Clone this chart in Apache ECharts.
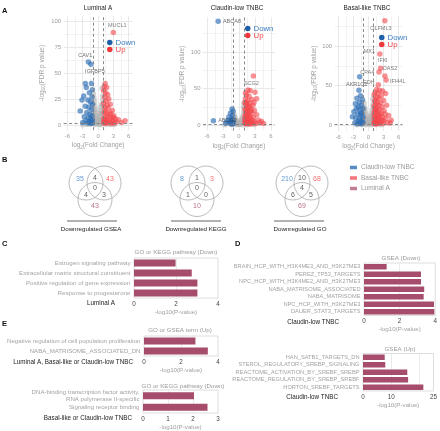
<!DOCTYPE html>
<html><head><meta charset="utf-8">
<script src="https://cdn.jsdelivr.net/npm/echarts@6/dist/echarts.min.js"></script>
<style>html,body{margin:0;padding:0;background:#fff}#c{width:440px;height:431px}</style>
</head><body><div id="c"></div>
<script>
// ---------------- DATA ----------------
// Panel A volcano points: [log2FC, -log10 FDR]
const lumUp = [[1.4,40],[1.2,37],[1.7,36],[1.1,33],[1.5,31],[1.9,29],[1.3,27],[2.1,25],[1.6,23],[1.1,21],[2.4,20],[1.8,19],[1.3,17],[2.0,16],[1.5,14],[2.8,14],[1.2,12],[1.7,11],[2.3,10],[3.1,9],[1.4,8],[1.9,8],[2.6,7],[1.1,6],[3.4,6],[1.6,5],[2.2,5],[4.0,5],[1.3,4],[2.9,4],[1.8,3],[2.5,3],[3.6,3],[1.1,2.5],[1.5,2],[2.0,2],[3.2,2],[4.6,2.5],[1.2,1.6],[2.7,1.5],[5.3,4],[2.4,11.5],[3.0,7.5]];
const lumDown = [[-1.3,40],[-2.5,40],[-2.3,36],[-1.1,34],[-1.7,31],[-2.8,28],[-1.2,27],[-3.15,24],[-2.0,24],[-1.5,22],[-1.1,20],[-2.5,18],[-1.8,17],[-1.3,15],[-3.5,13.5],[-2.2,12],[-1.6,10],[-1.2,9],[-2.7,8],[-1.9,7],[-1.4,6],[-1.1,5],[-2.4,4],[-1.7,3.5],[-1.3,3],[-2.0,2],[-1.5,1.8],[-3.0,2.5],[-1.1,1.6]];
const lumNS = [[-0.9,30],[-0.7,22],[-0.5,15],[-0.3,9],[-0.1,4],[0.1,3],[0.3,8],[0.5,14],[0.7,20],[0.9,28],[0.8,35],[-0.8,26],[-0.6,18],[-0.4,12],[-0.2,6],[0.2,5],[0.4,11],[0.6,17],[0.95,24],[-0.95,20],[-0.85,15],[-0.65,10],[-0.45,6],[-0.25,3],[0,1],[0.25,2],[0.45,5],[0.65,9],[0.85,13],[0.9,18],[-0.7,5],[-0.5,3],[-0.3,1.5],[0.3,1],[0.5,2.5],[0.7,4],[-0.9,8],[0.9,6],[-1.5,0.8],[-2.2,0.5],[1.6,0.7],[2.4,0.4],[-3,0.3],[3.2,0.5],[-0.6,0.5],[0.6,0.3],[-0.95,12],[0.75,11]];
const lumGenes = [['MUCL1',3.0,89],['CAV1',-1.9,60.5],['IGFBP5',-1.4,58.5]];

const clUp = [[1.7,48],[2.1,47],[3.0,45],[1.4,41],[1.9,39],[1.2,36],[2.4,35],[1.6,33],[1.1,31],[2.0,30],[1.3,28],[2.6,27],[1.8,26],[1.5,24],[2.2,23],[1.1,22],[1.7,21],[2.9,20],[1.3,19],[2.0,18],[1.5,17],[2.4,16],[1.2,15],[1.8,14],[3.3,14],[1.4,13],[2.1,12],[1.1,11],[1.6,10],[2.7,10],[1.3,9],[1.9,9],[2.3,8],[1.1,7],[1.5,7],[3.6,7],[1.8,6],[2.5,6],[1.2,5],[1.6,5],[2.0,4.5],[4.2,5],[1.4,4],[2.9,4],[1.1,3],[1.7,3],[2.2,3],[3.9,3],[1.3,2.5],[2.6,2.2],[1.5,2],[1.9,1.8],[3.2,2],[1.2,1.6],[2.1,1.5],[4.6,2],[1.6,12],[2.3,20],[1.9,25],[1.4,30],[2.8,31],[1.2,44],[3.3,36]];
const clDown = [[-1.3,22],[-1.1,19],[-1.6,16],[-1.2,13],[-1.9,11],[-1.4,9],[-1.1,7],[-2.2,6],[-1.5,5],[-1.8,4],[-1.2,3],[-1.6,2.2],[-1.1,1.8],[-2.5,2.5],[-1.3,1.5]];
const clNS = [[-0.9,14],[-0.7,10],[-0.5,7],[-0.3,4],[-0.1,2],[0.1,2.5],[0.3,5],[0.5,8],[0.7,12],[0.9,16],[-0.8,6],[-0.6,4],[-0.4,2.5],[0.4,3],[0.6,6],[0.8,9],[0.95,20],[-0.95,9],[0,1],[-0.2,1],[0.2,1.2],[-1.5,0.6],[-2.6,0.4],[1.5,0.5],[2.8,0.6],[-0.5,0.4],[0.6,0.3],[0.85,25],[0.9,30]];
const clGenes = [['ABCA8',-3.9,142],['ABCG2',-4.8,6],['SCG2',2.7,67]];

const baUp = [[1.6,45],[2.2,44],[2.8,43],[1.3,41],[1.9,40],[3.4,40],[1.1,38],[2.5,37],[1.7,35],[2.1,34],[1.4,32],[3.0,31],[1.2,30],[1.8,29],[2.4,28],[1.5,26],[2.0,25],[3.6,25],[1.1,24],[2.7,23],[1.6,22],[1.3,20],[2.2,20],[1.9,18],[3.1,18],[1.2,17],[1.5,16],[2.5,15],[1.1,14],[1.8,13],[2.1,12],[4.0,12],[1.3,11],[1.6,10],[2.8,10],[1.1,9],[1.9,8],[2.3,8],[3.4,8],[1.4,7],[1.7,6],[2.6,6],[4.5,6],[1.2,5],[2.0,5],[3.0,5],[1.5,4],[1.1,3],[1.8,3],[2.4,3],[3.8,3],[1.3,2.2],[2.1,2],[1.6,1.7],[2.9,2],[4.3,2.5],[1.2,1.5],[2.3,13],[1.4,19],[3.3,14]];
const baDown = [[-1.9,44],[-1.6,37],[-2.3,34],[-1.2,32],[-1.8,29],[-2.6,27],[-1.4,25],[-2.0,23],[-1.1,21],[-1.7,19],[-2.9,17],[-1.3,15],[-2.2,14],[-1.5,12],[-1.1,10],[-3.2,10.5],[-2.5,9],[-1.8,8],[-1.3,6],[-2.0,5],[-1.5,4],[-1.1,3],[-2.7,3],[-1.7,2.2],[-1.3,1.8],[-2.2,1.6],[-1.6,15],[-2.4,21]];
const baNS = [[-0.9,28],[-0.7,20],[-0.5,13],[-0.3,8],[-0.1,3],[0.1,3],[0.3,7],[0.5,12],[0.7,19],[0.9,26],[0.85,33],[-0.8,22],[-0.6,16],[-0.4,10],[-0.2,5],[0.2,4],[0.4,10],[0.6,15],[0.95,22],[-0.95,17],[-0.85,12],[-0.65,8],[-0.45,5],[-0.25,2.5],[0,1],[0.25,2],[0.45,4],[0.65,8],[0.85,12],[-0.7,4],[-0.5,2.5],[0.5,2],[0.7,3.5],[-0.9,7],[0.9,6],[-1.5,0.7],[-2.3,0.5],[1.6,0.6],[2.5,0.4],[-0.6,0.4],[0.6,0.3]];
const baGenes = [['OLFML3',3.25,132],['MX1',2.25,90],['IFI6',2.4,72],['CPA4',2.1,67],['OAS2',3.25,62],['IFI44L',3.5,57],['EDH',1.95,51],['AKR1C2',-1.75,61]];

const fcCut = [-1, 1];
const fdrCut = 1.3;

// Panel B Venn counts: [Claudin only, Claudin∩Basal, Basal only, Claudin∩Luminal, all three, Basal∩Luminal, Luminal only]
const vennGSEA = [35, 4, 43, 4, 0, 3, 43];
const vennKEGG = [8, 1, 3, 1, 0, 0, 10];
const vennGO = [210, 10, 68, 6, 4, 5, 69];
const vennNames = ['Downregulated GSEA', 'Downregulated KEGG', 'Downregulated GO'];
const groupNames = ['Claudin-low TNBC', 'Basal-like TNBC', 'Luminal A'];

// Panel C
const cCats = ['Estrogen signaling pathway','Extracellular matrix structural constituent','Positive regulation of gene expression','Response to progesterone'];
const cVals = [1.98, 2.75, 3.02, 3.02];
// Panel D
const dDownCats = ['BRAIN_HCP_WITH_H3K4ME3_AND_H3K27ME3','PEREZ_TP53_TARGETS','NPC_HCP_WITH_H3K4ME2_AND_H3K27ME3','NABA_MATRISOME_ASSOCIATED','NABA_MATRISOME','NPC_HCP_WITH_H3K27ME3','DAUER_STAT3_TARGETS'];
const dDownVals = [1.27, 3.2, 3.2, 3.38, 3.35, 3.93, 3.95];
const dUpCats = ['HAN_SATB1_TARGETS_DN','STEROL_REGULATORY_SREBP_SIGNALING','REACTOME_ACTIVATION_BY_SREBF_SREBP','REACTOME_REGULATION_BY_SREBP_SREBF','HORTON_SREBF_TARGETS'];
const dUpVals = [7.7, 7.9, 15.7, 16.0, 21.4];
const dUpTicks = [0, 10, 25];
// Panel E
const eUpCats = ['Negative regulation of cell population proliferation','NABA_MATRISOME_ASSOCIATED_DN'];
const eUpVals = [2.78, 3.45];
const eDownCats = ['DNA-binding transcription factor activity,\nRNA polymerase II-specific','Signaling receptor binding'];
const eDownVals = [2.04, 2.58];

// ---------------- STYLE / LAYOUT ----------------
const FONT = "'Liberation Sans', Arial, sans-serif";
const RED = '#F4474C', BLUE = '#2C6DB4', GRAY = '#b0b0b0', MAUVE = '#A64D6D';
const LBLUE = '#3b7dc4', LRED = '#f0484c';

function isMult(v, m) { const r = v / m; return Math.abs(r - Math.round(r)) < 1e-6; }
function gridColors(min, max, step, major, minor) {
  const n = Math.round((max - min) / step), out = [];
  for (let i = 0; i <= n; i++) {
    const v = min + i * step;
    let c = 'rgba(0,0,0,0)';
    if (i > 0 && i < n) {
      if (isMult(v, major)) c = '#e2e2e2';
      else if (minor && isMult(v, minor)) c = '#efefef';
    }
    out.push(c);
  }
  return out;
}

const volcanoes = [
  { title: 'Luminal A', tx: 98, grid: { left: 63.6, top: 15.8, width: 68.9, height: 114.4 },
    y: [-5, 105, 2.5, 25, 12.5], up: lumUp, down: lumDown, ns: lumNS, genes: lumGenes, leg: [107, 38.5], yGap: 17 },
  { title: 'Claudin-low TNBC', tx: 237, grid: { left: 203, top: 17.3, width: 72, height: 113.2 },
    y: [-7.5, 147.5, 2.5, 50, 25], up: clUp, down: clDown, ns: clNS, genes: clGenes, leg: [245, 24.5], yGap: 12.5 },
  { title: 'Basal-like TNBC', tx: 367, grid: { left: 334.5, top: 16.4, width: 68, height: 114.6 },
    y: [-7.5, 137.5, 2.5, 50, 25], up: baUp, down: baDown, ns: baNS, genes: baGenes, leg: [379, 33.5], yGap: 12 }
];
const labelPos = {
  MUCL1: ['top', [4, 1]], CAV1: ['top', [-3, 1]], IGFBP5: ['bottom', [4, 0]],
  ABCA8: ['right', [0, 0]], ABCG2: ['right', [0, 0]], SCG2: ['bottom', [-2, 0]],
  OLFML3: ['bottom', [-4, 0]], MX1: ['left', [0, -2]], IFI6: ['top', [2, 0]], CPA4: ['left', [0, 0]],
  OAS2: ['top', [5, 0]], IFI44L: ['right', [-1, 1]], EDH: ['left', [1, -2]], AKR1C2: ['bottom', [-3, 0]]
};

const grids = [], xAxes = [], yAxes = [], series = [], legends = [], graphics = [];
const tickLab = { fontSize: 5.9, color: '#9a9a9a', fontFamily: FONT };
const axisNameRich = {
  t: { fontSize: 6.5, color: '#a0a0a0', fontFamily: FONT },
  s: { fontSize: 4.5, color: '#a0a0a0', fontFamily: FONT, padding: [4, 0, 0, 0] }
};

function pts(arr) { return arr.map(d => [d[0], d[1]]); }
function geneItems(genes, sign) {
  return genes.filter(g => (sign > 0 ? g[1] > 0 : g[1] < 0)).map(g => {
    const p = labelPos[g[0]] || ['top', [0, 0]];
    return { value: [g[1], g[2]], name: g[0],
      label: { show: true, formatter: g[0], position: p[0], offset: p[1], distance: 2,
        fontSize: 5.5, color: '#222', fontFamily: FONT } };
  });
}

function txt(text, x, y, o) {
  o = o || {};
  const al = o.align || 'center';
  return { type: 'text', x: x, y: y, silent: true, z: 100,
    style: { text: text, fill: o.fill || '#333', font: (o.bold ? 'bold ' : '') + (o.size || 6.3) + 'px ' + FONT,
      align: al, textAlign: al, verticalAlign: 'middle', textVerticalAlign: 'middle' } };
}

volcanoes.forEach((v, i) => {
  grids.push(Object.assign({ containLabel: false }, v.grid));
  xAxes.push({ gridIndex: i, type: 'value', min: -6.75, max: 6.75, interval: 0.75,
    axisLine: { show: false }, axisTick: { show: false },
    splitLine: { show: true, lineStyle: { color: gridColors(-6.75, 6.75, 0.75, 3, 1.5), width: 0.8 } },
    axisLabel: Object.assign({ margin: 3, formatter: val => isMult(val, 3) ? String(Math.round(val)) : '' }, tickLab),
    name: '{t|log}{s|2}{t|(Fold Change)}', nameLocation: 'middle', nameGap: 11,
    nameTextStyle: { rich: axisNameRich } });
  const [ymin, ymax, ystep, ymaj, ymin2] = v.y;
  yAxes.push({ gridIndex: i, type: 'value', min: ymin, max: ymax, interval: ystep,
    axisLine: { show: false }, axisTick: { show: false },
    splitLine: { show: true, lineStyle: { color: gridColors(ymin, ymax, ystep, ymaj, ymin2), width: 0.8 } },
    axisLabel: Object.assign({ margin: 2.5, formatter: val => isMult(val, ymaj) ? String(Math.round(val)) : '' }, tickLab),
    name: '{t|-log}{s|10}{t|(FDR p value)}', nameLocation: 'middle', nameGap: v.yGap, nameRotate: 90,
    nameTextStyle: { rich: axisNameRich } });
  series.push({ type: 'scatter', name: 'NS', xAxisIndex: i, yAxisIndex: i, data: pts(v.ns),
    symbolSize: 5.5, itemStyle: { color: GRAY, opacity: 0.55 }, silent: true,
    markLine: { silent: true, symbol: 'none', label: { show: false },
      lineStyle: { type: [3, 2.5], color: '#7d7d7d', width: 0.9 },
      data: [{ xAxis: fcCut[0] }, { xAxis: fcCut[1] }, { yAxis: fdrCut }] } });
  series.push({ type: 'scatter', name: 'Down', xAxisIndex: i, yAxisIndex: i,
    data: pts(v.down).concat(geneItems(v.genes, -1)),
    symbolSize: 5.5, itemStyle: { color: BLUE, opacity: 0.65 } });
  series.push({ type: 'scatter', name: 'Up', xAxisIndex: i, yAxisIndex: i,
    data: pts(v.up).concat(geneItems(v.genes, 1)),
    symbolSize: 5.5, itemStyle: { color: RED, opacity: 0.6 } });
  legends.push({ left: v.leg[0], top: v.leg[1], orient: 'vertical', icon: 'circle', itemWidth: 5.5, itemHeight: 5.5,
    itemGap: -1, padding: 0, selectedMode: false, textStyle: { fontSize: 7.8, fontFamily: FONT, padding: [0, 0, 0, -2] },
    data: [{ name: 'Down', textStyle: { color: LBLUE }, itemStyle: { color: '#1f5ea8', opacity: 1 } },
           { name: 'Up', textStyle: { color: LRED }, itemStyle: { color: '#f0383c', opacity: 1 } }] });
  graphics.push(txt(v.title, v.tx, 8, { size: 6.4, fill: '#222' }));
});

// ---------- Venn diagrams (hidden 1px-per-unit grids) ----------
const vennData = [vennGSEA, vennKEGG, vennGO];
const vennCx = [95, 197, 302], vennCy = 188;
const circleCenters = [[-9, -5], [9, -5], [0, 11.5]];
const regionPos = [[-15, -9], [0, -9.5], [15, -9], [-9, 7], [0, 0.5], [9, 7], [0, 18]];
const regionColor = [LBLUE, '#333', LRED, '#333', '#333', '#333', MAUVE];
vennData.forEach((counts, k) => {
  const gi = grids.length;
  grids.push({ left: vennCx[k] - 30, top: vennCy - 30, width: 60, height: 60 });
  xAxes.push({ gridIndex: gi, type: 'value', min: -30, max: 30, show: false });
  yAxes.push({ gridIndex: gi, type: 'value', min: -30, max: 30, inverse: true, show: false });
  series.push({ type: 'scatter', name: 'venn' + k, xAxisIndex: gi, yAxisIndex: gi, silent: true, clip: false,
    data: circleCenters, symbolSize: 34,
    itemStyle: { color: 'rgba(0,0,0,0)', borderColor: '#a0a0a0', borderWidth: 0.9 } });
  series.push({ type: 'scatter', name: 'vennlab' + k, xAxisIndex: gi, yAxisIndex: gi, silent: true, clip: false,
    symbolSize: 1, itemStyle: { color: 'rgba(0,0,0,0)' }, z: 5,
    data: counts.map((c, j) => ({ value: regionPos[j], label: { show: true, position: 'inside', formatter: String(c),
      color: regionColor[j], fontSize: 7, fontFamily: FONT } })) });
  if (k === 0) {
    groupNames.forEach((nm, j) => series.push({ type: 'scatter', name: nm, xAxisIndex: gi, yAxisIndex: gi, data: [],
      itemStyle: { color: [BLUE, '#f2525a', '#b05e7b'][j] } }));
  }
});
legends.push({ left: 350, top: 164, orient: 'vertical', icon: 'rect', itemWidth: 7, itemHeight: 3.5, itemGap: 3.5,
  padding: 0, selectedMode: false, data: groupNames,
  textStyle: { fontSize: 6.5, color: '#9a9a9a', fontFamily: FONT, padding: [0, 0, 0, -1] } });

// ---------- Bar panels ----------
function barPanel(box, cats, vals, max, interval, labelSize, barW, labelFormatter, gridCols) {
  const gi = grids.length;
  grids.push(Object.assign({ show: true, borderColor: '#d6d6d6', borderWidth: 0.8, backgroundColor: 'rgba(0,0,0,0)' }, box));
  yAxes.push({ gridIndex: gi, type: 'category', data: cats, inverse: true,
    axisLine: { show: false }, axisTick: { show: false }, splitLine: { show: false },
    axisLabel: { interval: 0, fontSize: labelSize, color: '#a3a3a3', fontFamily: FONT, margin: 3.5, lineHeight: labelSize + 0.8 } });
  xAxes.push({ gridIndex: gi, type: 'value', min: 0, max: max, interval: interval,
    axisLine: { show: false }, axisTick: { show: false },
    splitLine: { show: true, lineStyle: { color: gridCols, width: 0.8 } },
    axisLabel: { fontSize: 6.3, color: '#444', fontFamily: FONT, margin: 3, formatter: labelFormatter || (v => String(v)) },
    name: '-log10(P-value)', nameLocation: 'middle', nameGap: 11,
    nameTextStyle: { fontSize: 6.2, color: '#a0a0a0', fontFamily: FONT } });
  series.push({ type: 'bar', name: 'bar' + gi, xAxisIndex: gi, yAxisIndex: gi, data: vals, barWidth: barW,
    itemStyle: { color: MAUVE }, silent: true });
}
const T = 'rgba(0,0,0,0)', GL = '#e6e6e6';
barPanel({ left: 134, top: 258, width: 84, height: 40 }, cCats, cVals, 4, 2, 6.2, 7, null, [T, GL, T]);
barPanel({ left: 364, top: 263, width: 74, height: 52.5 }, dDownCats, dDownVals, 4, 2, 5.7, 5.5, null, [T, GL, T]);
barPanel({ left: 363, top: 353.5, width: 75, height: 37.5 }, dUpCats, dUpVals, 25, 5, 5.7, 5.5,
  v => dUpTicks.indexOf(Math.round(v)) >= 0 ? String(Math.round(v)) : '', [T, T, GL, T, GL, T]);
barPanel({ left: 144, top: 336, width: 74, height: 20 }, eUpCats, eUpVals, 4, 2, 6.1, 7, null, [T, GL, T]);
barPanel({ left: 143, top: 390, width: 75, height: 23 }, eDownCats, eDownVals, 3, 1, 6.1, 7, null, [T, GL, GL, T]);

// ---------- Free text ----------
graphics.push(txt('A', 2, 11, { bold: true, size: 7.5, align: 'left', fill: '#111' }));
graphics.push(txt('B', 2, 160, { bold: true, size: 7.5, align: 'left', fill: '#111' }));
graphics.push(txt('C', 2, 244, { bold: true, size: 7.5, align: 'left', fill: '#111' }));
graphics.push(txt('D', 235, 244, { bold: true, size: 7.5, align: 'left', fill: '#111' }));
graphics.push(txt('E', 2, 323.5, { bold: true, size: 7.5, align: 'left', fill: '#111' }));
const capX = [91, 196, 300], lineX = [[67, 117], [171, 221], [274, 324]];
vennNames.forEach((nm, k) => {
  graphics.push({ type: 'line', silent: true, shape: { x1: lineX[k][0], y1: 221, x2: lineX[k][1], y2: 221 },
    style: { stroke: '#555', lineWidth: 0.9 } });
  graphics.push(txt(nm, capX[k], 229, { size: 6.2, fill: '#222' }));
});
graphics.push(txt('GO or KEGG pathway (Down)', 176, 252, { size: 6.2, fill: '#9a9a9a' }));
graphics.push(txt('GSEA (Down)', 401, 258, { size: 6.2, fill: '#9a9a9a' }));
graphics.push(txt('GSEA (Up)', 400, 349.5, { size: 6.2, fill: '#9a9a9a' }));
graphics.push(txt('GO or GSEA term (Up)', 180, 330.5, { size: 6.2, fill: '#9a9a9a' }));
graphics.push(txt('GO or KEGG pathway (Down)', 183, 386.5, { size: 6.2, fill: '#9a9a9a' }));
graphics.push(txt('Luminal A', 115, 303, { size: 6.3, align: 'right', fill: '#222' }));
graphics.push(txt('Claudin-low TNBC', 339, 322, { size: 6.3, align: 'right', fill: '#222' }));
graphics.push(txt('Claudin-low TNBC', 338, 397, { size: 6.3, align: 'right', fill: '#222' }));
graphics.push(txt('Luminal A, Basal-like or Claudin-low TNBC', 133, 362, { size: 6.3, align: 'right', fill: '#222' }));
graphics.push(txt('Basal-like or Claudin-low TNBC', 132, 418, { size: 6.3, align: 'right', fill: '#222' }));

const chart = echarts.init(document.getElementById('c'), null, { renderer: 'canvas' });
chart.setOption({
  animation: false,
  backgroundColor: '#fff',
  textStyle: { fontFamily: FONT },
  grid: grids, xAxis: xAxes, yAxis: yAxes, series: series, legend: legends, graphic: graphics
});
</script>
</body></html>
